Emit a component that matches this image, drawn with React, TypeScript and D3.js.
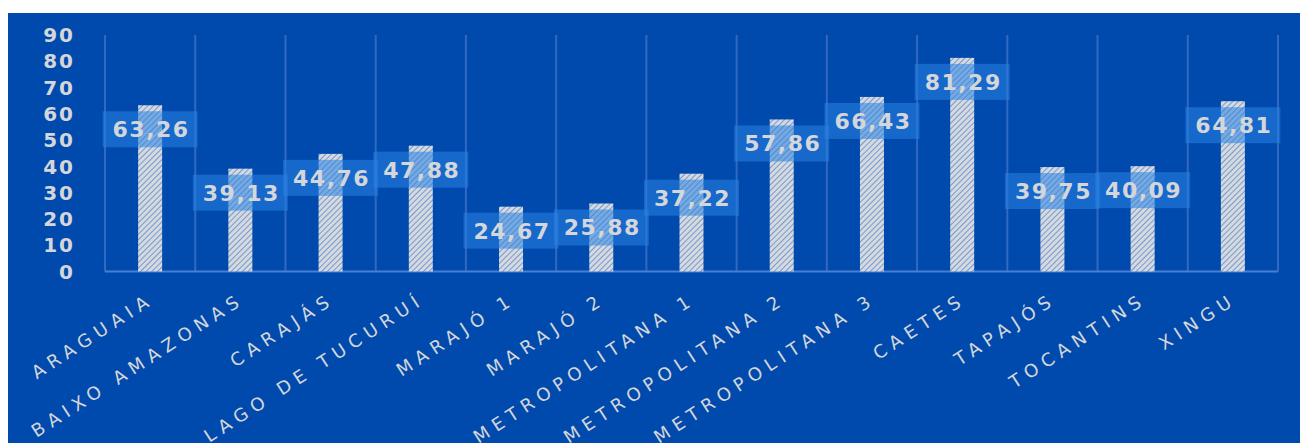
import React from "react";
import * as d3 from "d3";

const categories = [
  "ARAGUAIA",
  "BAIXO AMAZONAS",
  "CARAJÁS",
  "LAGO DE TUCURUÍ",
  "MARAJÓ 1",
  "MARAJÓ 2",
  "METROPOLITANA 1",
  "METROPOLITANA 2",
  "METROPOLITANA 3",
  "CAETES",
  "TAPAJÓS",
  "TOCANTINS",
  "XINGU",
];
const values = [63.26, 39.13, 44.76, 47.88, 24.67, 25.88, 37.22, 57.86, 66.43, 81.29, 39.75, 40.09, 64.81];
const yTicks = [0, 10, 20, 30, 40, 50, 60, 70, 80, 90];

const W = 1292;
const H = 430;
const left = 97;
const right = 1270;
const top = 22;
const bottom = 258.5;

const BG = "#004AAD";
const TXT = "#d4d6da";

export default function App() {
  const x = d3.scaleBand<string>().domain(categories).range([left, right]).paddingInner(0).paddingOuter(0);
  const y = d3.scaleLinear().domain([0, 90]).range([bottom, top]);
  const bw = 24;
  const fmt = (v: number) => v.toFixed(2).replace(".", ",");
  const boundaries = categories.map((c) => x(c) as number).concat([right]);

  return (
    <div style={{ position: "absolute", left: 8, top: 13, width: W, height: H, overflow: "hidden" }}>
      <svg width={W} height={H} style={{ display: "block" }}>
        <defs>
          <pattern id="hatch" width="4" height="4" patternUnits="userSpaceOnUse" patternTransform="rotate(45)">
            <rect width="4" height="4" fill="#d6d9de" />
            <line x1="0" y1="0" x2="0" y2="4" stroke="#4a80cc" strokeWidth="1.4" />
          </pattern>
        </defs>
        <rect width={W} height={H} fill={BG} />
        {boundaries.map((bx, i) => (
          <line key={"g" + i} x1={bx} x2={bx} y1={top} y2={bottom} stroke="#3169c2" strokeWidth={2} />
        ))}
        <line x1={left} x2={right} y1={bottom} y2={bottom} stroke="#4a7fd0" strokeWidth={2} />
        {yTicks.map((t) => (
          <text
            key={"t" + t}
            x={67}
            y={y(t)}
            dy="0.36em"
            textAnchor="end"
            fill={TXT}
            fontFamily="DejaVu Sans"
            fontWeight="bold"
            fontSize={20}
            letterSpacing={2}
          >
            {t}
          </text>
        ))}
        {categories.map((c, i) => {
          const cx = (x(c) as number) + x.bandwidth() / 2;
          return (
            <rect key={"b" + i} x={cx - bw / 2} y={y(values[i])} width={bw} height={bottom - y(values[i])} fill="url(#hatch)" />
          );
        })}
        {categories.map((c, i) => {
          const cx = (x(c) as number) + x.bandwidth() / 2;
          const cy = y(values[i]) + 24;
          return (
            <g key={"l" + i}>
              <rect x={cx - 47.5} y={cy - 18} width={95} height={36} fill="rgba(40,130,225,0.55)" />
              <text
                x={cx + 1}
                y={cy}
                dy="0.36em"
                textAnchor="middle"
                fill={TXT}
                fontFamily="DejaVu Sans"
                fontWeight="bold"
                fontSize={22}
                letterSpacing={1.5}
              >
                {fmt(values[i])}
              </text>
            </g>
          );
        })}
        {categories.map((c, i) => {
          const cx = (x(c) as number) + x.bandwidth() / 2;
          return (
            <text
              key={"c" + i}
              transform={`translate(${cx + 5},${bottom + 31}) rotate(-33)`}
              textAnchor="end"
              fill={TXT}
              fontFamily="DejaVu Sans"
              fontSize={18}
              letterSpacing={6}
            >
              {c}
            </text>
          );
        })}
      </svg>
    </div>
  );
}
